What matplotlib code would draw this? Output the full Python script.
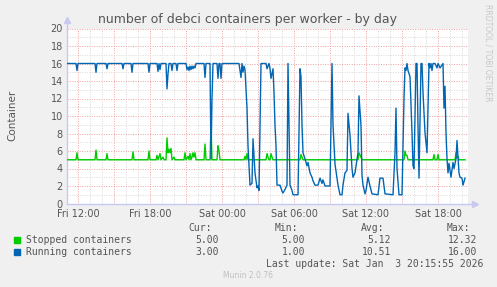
import matplotlib
matplotlib.use('Agg')
import matplotlib.pyplot as plt
import numpy as np

# 5-minute sample index (from Fri 11:05) and value
running_idx = [0, 9, 10, 11, 28, 29, 30, 39, 40, 41, 55, 56, 57, 64, 65, 66,
               81, 82, 83, 90, 91, 92, 93, 94, 99, 100, 101, 102, 104, 105, 106,
               109, 110, 111, 119, 120, 121, 122, 123, 124, 125, 126, 127, 128, 129,
               137, 138, 139, 143, 144, 145, 146, 150, 151, 152, 153, 154, 155,
               172, 174, 175, 176, 177, 178, 180, 181, 183, 185, 186, 187, 188,
               190, 191, 192, 193, 194, 199, 200, 202, 203, 204, 206,
               207, 208, 209, 210, 213, 215, 216, 218, 220, 221, 223, 225, 226,
               231, 233, 234, 235, 236, 238, 240, 241, 243, 245, 246, 248, 251, 253, 255,
               256, 258, 260, 263, 265, 266, 268, 270, 271, 273, 275, 276, 278, 280, 281, 283,
               285, 286, 288, 290, 291, 292, 294, 295, 296, 298, 299, 301, 303, 305,
               311, 313, 316, 318, 326, 328, 329, 330, 332, 335, 337, 338, 339, 340,
               341, 343, 345, 346, 347, 349, 350, 351, 352, 354, 355, 356, 358, 359,
               360, 362, 363, 364, 365, 366, 368, 370, 371, 373, 376, 377, 378, 379,
               380, 381, 382, 384, 386, 387, 389, 390, 392, 393, 395, 396, 398]
running_val = [16, 16, 15.2, 16, 16, 15, 16, 16, 15.4, 16, 16, 15.4, 16, 16, 15, 16,
               16, 15, 16, 16, 15.1, 16, 15.3, 16, 16, 13.1, 14.8, 16, 16, 15.2, 16,
               16, 15.2, 16, 16, 15.3, 15.6, 15.2, 15.7, 15.3, 15.7, 15.4, 15.7, 15.5, 16,
               16, 14.4, 16, 16, 5.1, 12, 16, 16, 14.3, 16, 16, 14.3, 16,
               16, 14.4, 16, 15, 15.7, 15.3, 10.9, 6.6, 2.1, 2.3, 7.4, 5.5, 3.5,
               1.8, 2.0, 1.5, 9, 16, 16, 15.4, 16, 15.4, 14.3, 15.4,
               12.7, 8.9, 6.6, 2.1, 2.1, 1.4, 1.2, 1.6, 2.1, 16, 2.1, 1.5, 1.0,
               1.0, 15.4, 14.5, 9, 5.8, 5.1, 4.3, 4.7, 3.5, 3.0, 2.6, 2.1, 2.1, 2.9, 2.3,
               2.7, 2.0, 2.0, 2.0, 16, 9, 4.5, 2.9, 2.1, 1.0, 1.0, 2.1, 3.5, 3.8, 10.3, 7.8,
               4, 3, 3.5, 5.0, 5.8, 12.3, 8.9, 3.2, 2.1, 1.1, 1.5, 3.0, 2.0, 1.1,
               1.0, 2.9, 2.9, 1.1, 1.0, 5.8, 10.9, 4, 1.0, 1.0, 12, 15.5, 15.2, 16,
               15.2, 14.5, 8.1, 4.3, 4.0, 16, 16, 8.9, 2.9, 16, 16, 12.7, 8.1, 7,
               5.8, 16, 15.5, 16, 15.2, 16, 16, 15.5, 16, 15.5, 16, 10.9, 13.4, 8.1,
               5.1, 3.5, 4.6, 3.0, 4.7, 4.0, 5.1, 7.2, 3.5, 3.0, 2.9, 2.1, 2.9]

stopped_idx = [0, 9, 10, 11, 28, 29, 30, 39, 40, 41, 65, 66, 67, 81, 82, 83, 89, 90,
               91, 93, 94, 96, 97, 99, 100, 101, 102, 103, 104, 105, 107, 108, 117,
               118, 119, 121, 122, 123, 124, 125, 126, 127, 128, 129, 137, 138, 139,
               143, 144, 145, 150, 151, 152, 153, 177, 178, 179, 180, 181, 199, 200,
               201, 202, 203, 204, 205, 206, 233, 234, 235, 236, 291, 292, 294, 295,
               337, 338, 339, 340, 341, 366, 367, 368, 370, 371, 372, 388, 389, 390,
               391, 392, 398]
stopped_val = [5, 5, 5.8, 5, 5, 6.1, 5, 5, 5.7, 5, 5, 5.9, 5, 5, 6.0, 5, 5, 5.5,
               5, 5.7, 5, 5.3, 5, 5, 7.5, 5.8, 6.2, 5.8, 6.3, 5, 5.3, 5, 5,
               5.8, 5, 5.4, 5, 5.7, 5, 5.3, 5.8, 5.3, 5.8, 5, 5, 6.8, 5,
               5, 9, 5, 5, 6.6, 6.0, 5, 5, 5.4, 5, 5.7, 5, 5, 5.7,
               5.3, 5, 5, 5.7, 5.3, 5, 5, 5.6, 5.3, 5, 5, 5.8, 5.3, 5,
               5, 6.0, 5.5, 5.5, 5, 5, 5.6, 5, 5, 5.6, 5, 5, 5.8, 5.2,
               5.4, 5, 5]

series_names = ['Stopped containers', 'Running containers']
series_colors = ['#00CC00', '#0066B3']
stats_cur = ['5.00', '3.00']
stats_min = ['5.00', '1.00']
stats_avg = ['5.12', '10.51']
stats_max = ['12.32', '16.00']

x_ticks = [12, 18, 24, 30, 36, 42]
x_labels = ['Fri 12:00', 'Fri 18:00', 'Sat 00:00', 'Sat 06:00', 'Sat 12:00', 'Sat 18:00']

start_h = 11 + 5 / 60.0
n_samples = 401

W, H = 497, 287
BG = '#F0F0F0'
TXT = '#555555'


def to_hours(idx):
    return start_h + np.asarray(idx) / 12.0


def fx(px):
    return px / W


def fy(py):
    return 1 - py / H


fig = plt.figure(figsize=(W / 100, H / 100), dpi=100, facecolor=BG)
ax = fig.add_axes([fx(67), fy(203.5), fx(468 - 67), (203.5 - 28.5) / H])
ax.set_facecolor('white')

x0, x1 = start_h, start_h + n_samples / 12.0
ax.set_xlim(x0, x1)
ax.set_ylim(0, 20)

# grid: minor grey, major red, both dotted
for h in np.arange(12, x1, 1):
    major = (h % 3) == 0
    ax.axvline(h, color='#F0A0A0' if major else '#D8D8D8', lw=0.7,
               ls=(0, (1, 1.5)), zorder=1)
for v in range(1, 21):
    major = v % 2 == 0
    ax.axhline(v, color='#F0A0A0' if major else '#D8D8D8', lw=0.7,
               ls=(0, (1, 1.5)), zorder=1)

ax.plot(to_hours(stopped_idx), stopped_val, color=series_colors[0], lw=1.0, zorder=3)
ax.plot(to_hours(running_idx), running_val, color=series_colors[1], lw=1.0, zorder=4)

for s in ['top', 'right']:
    ax.spines[s].set_visible(False)
for s in ['left', 'bottom']:
    ax.spines[s].set_color('#C8C8F0')
    ax.spines[s].set_linewidth(1.0)

# axis arrows
ax.plot([0], [1.05], marker='^', color='#C8C8F0', ms=5, transform=ax.transAxes,
        clip_on=False)
ax.plot([0, 0], [1.0, 1.05], color='#C8C8F0', lw=1.0, transform=ax.transAxes,
        clip_on=False)
ax.plot([1.0, 1.015], [0, 0], color='#C8C8F0', lw=1.0, transform=ax.transAxes,
        clip_on=False)
ax.plot([1.017], [0], marker='>', color='#C8C8F0', ms=5, transform=ax.transAxes,
        clip_on=False)

ax.set_yticks(range(0, 21, 2))
ax.set_xticks(x_ticks)
ax.set_xticklabels(x_labels)
ax.tick_params(axis='both', length=0, labelsize=7, colors=TXT, pad=4)
ax.tick_params(axis='y', pad=3)

fig.text(fx(248), fy(19), 'number of debci containers per worker - by day',
         ha='center', va='center', fontsize=9, color=TXT)
fig.text(fx(12), fy(115), 'Container', rotation=90, ha='center', va='center',
         fontsize=7.5, color=TXT)
fig.text(fx(488), fy(4), 'RRDTOOL / TOBI OETIKER', rotation=270, ha='center',
         va='top', fontsize=5.5, color='#C8C8C8')

mono = dict(family='DejaVu Sans Mono', fontsize=7, color=TXT)
for label, px in zip(['Cur:', 'Min:', 'Avg:', 'Max:'], [212, 298, 384, 470]):
    fig.text(fx(px), fy(228), label, ha='right', va='center', **mono)
rows = [240, 252]
for i, name in enumerate(series_names):
    fig.patches.append(plt.Rectangle((fx(14), fy(rows[i] + 3)), fx(6), 6 / H,
                                     transform=fig.transFigure, color=series_colors[i]))
    fig.text(fx(26), fy(rows[i]), name, ha='left', va='center', **mono)
    for val, px in zip([stats_cur[i], stats_min[i], stats_avg[i], stats_max[i]],
                       [219, 305, 391, 477]):
        fig.text(fx(px), fy(rows[i]), val, ha='right', va='center', **mono)
fig.text(fx(483), fy(264), 'Last update: Sat Jan  3 20:15:55 2026', ha='right',
         va='center', **mono)
fig.text(fx(248), fy(276), 'Munin 2.0.76', ha='center', va='center',
         fontsize=5.5, color='#C0C0C0')

fig.savefig('out.png', dpi=100, facecolor=BG)
